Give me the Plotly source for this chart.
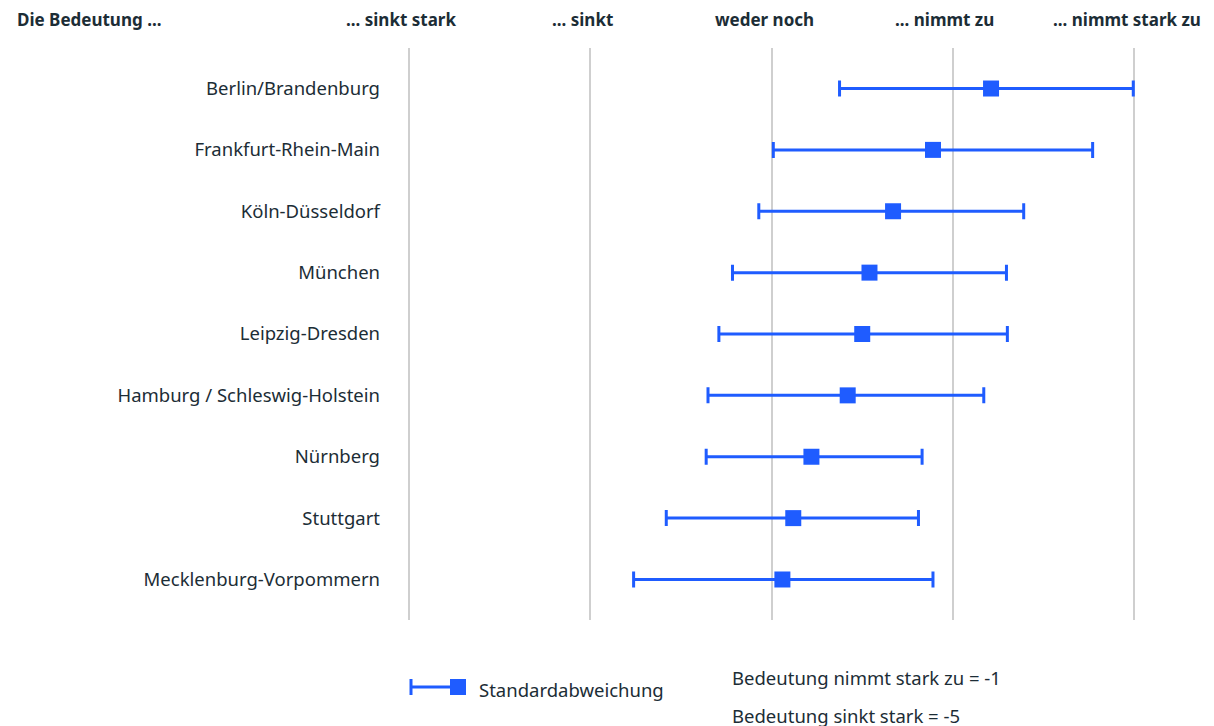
import plotly.graph_objects as go

regions = ["Berlin/Brandenburg", "Frankfurt-Rhein-Main", "Köln-Düsseldorf", "München",
           "Leipzig-Dresden", "Hamburg / Schleswig-Holstein", "Nürnberg", "Stuttgart",
           "Mecklenburg-Vorpommern"]
means = [-1.79, -2.11, -2.33, -2.46, -2.50, -2.58, -2.78, -2.88, -2.94]
lower = [-2.625, -2.99, -3.07, -3.215, -3.29, -3.35, -3.36, -3.58, -3.76]
upper = [-1.006, -1.23, -1.61, -1.705, -1.70, -1.83, -2.17, -2.19, -2.11]
tick_vals = [-5, -4, -3, -2, -1]
tick_text = ["... sinkt stark", "... sinkt", "weder noch", "... nimmt zu", "... nimmt stark zu"]

BLUE = "#1f5cff"
TEXT = "#1c2d36"
FONT = "Noto Sans"

OFF = 8  # page body margin
W, H = 1214, 726
L, R, T, B = 405 - OFF, 76 + OFF, 48 - OFF, 106 + OFF
pw, ph = W - L - R, H - T - B

def px(x):
    return (x - OFF - L) / pw

def py(y):
    return (H - B - (y - OFF)) / ph

fig = go.Figure()
fig.add_trace(go.Scatter(
    x=means, y=regions, mode="markers",
    marker=dict(symbol="square", size=16, color=BLUE),
    error_x=dict(type="data", symmetric=False,
                 array=[u - m for u, m in zip(upper, means)],
                 arrayminus=[m - l for m, l in zip(means, lower)],
                 color=BLUE, thickness=3, width=8),
    showlegend=False, hoverinfo="skip"))

n = len(regions)
fig.update_layout(
    width=W, height=H, margin=dict(l=L, r=R, t=T, b=B),
    paper_bgcolor="white", plot_bgcolor="white",
    font=dict(family=FONT, color=TEXT, size=18.5),
    xaxis=dict(range=[-5.02, -0.98], tickvals=tick_vals, showticklabels=False,
               showgrid=True, gridcolor="#cfcfcf", gridwidth=1.5,
               zeroline=False, showline=False, fixedrange=True),
    yaxis=dict(type="category", range=[n - 1 + 0.66, -0.66], showgrid=False,
               zeroline=False, showline=False, ticks="", ticklabelstandoff=24,
               tickfont=dict(size=18.5, color=TEXT)),
)

shifts = [-8, -8, -7, -8]
for v, t, s in zip(tick_vals[:-1], tick_text[:-1], shifts):
    fig.add_annotation(x=v, xref="x", y=py(20), yref="paper", text="<b>" + t + "</b>",
                       showarrow=False, xanchor="center", yanchor="middle",
                       xshift=s, font=dict(size=17, color=TEXT))
fig.add_annotation(x=px(1203), xref="paper", y=py(20), yref="paper", text="<b>" + tick_text[-1] + "</b>",
                   showarrow=False, xanchor="right", yanchor="middle",
                   font=dict(size=17, color=TEXT))
fig.add_annotation(x=px(15), xref="paper", y=py(20), yref="paper", text="<b>Die Bedeutung ...</b>",
                   showarrow=False, xanchor="left", yanchor="middle",
                   font=dict(size=17, color=TEXT))

# legend
fig.add_shape(type="line", xref="paper", yref="paper", x0=px(411), x1=px(452), y0=py(687), y1=py(687),
              line=dict(color=BLUE, width=3))
fig.add_shape(type="line", xref="paper", yref="paper", x0=px(411), x1=px(411), y0=py(679), y1=py(695),
              line=dict(color=BLUE, width=3))
fig.add_shape(type="rect", xref="paper", yref="paper", x0=px(450), x1=px(466), y0=py(679), y1=py(695),
              line=dict(width=0), fillcolor=BLUE)
fig.add_annotation(x=px(477), xref="paper", y=py(689), yref="paper", text="Standardabweichung",
                   showarrow=False, xanchor="left", yanchor="middle", font=dict(size=18.5, color=TEXT))
fig.add_annotation(x=px(730), xref="paper", y=py(677), yref="paper", text="Bedeutung nimmt stark zu = -1",
                   showarrow=False, xanchor="left", yanchor="middle", font=dict(size=18.5, color=TEXT))
fig.add_annotation(x=px(730), xref="paper", y=py(715), yref="paper", text="Bedeutung sinkt stark = -5",
                   showarrow=False, xanchor="left", yanchor="middle", font=dict(size=18.5, color=TEXT))

fig.write_html("out.html")
